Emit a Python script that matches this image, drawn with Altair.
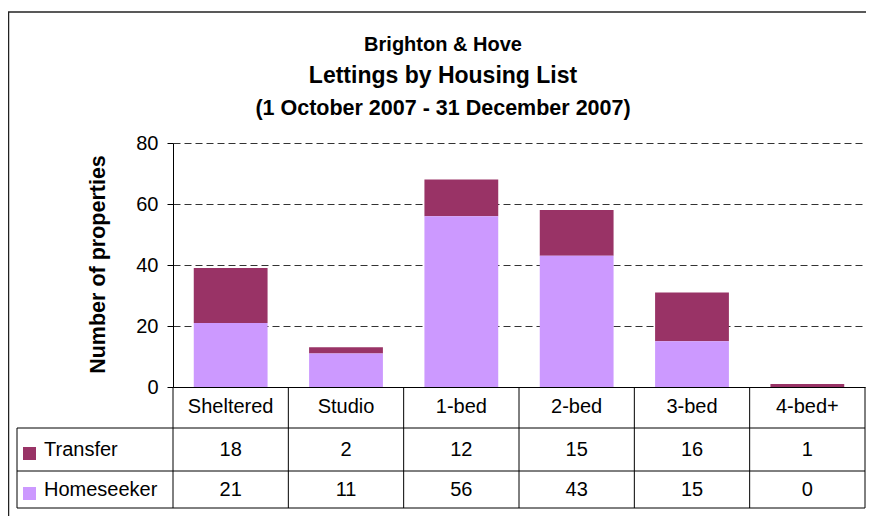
import altair as alt
import pandas as pd

categories = ["Sheltered", "Studio", "1-bed", "2-bed", "3-bed", "4-bed+"]
transfer = [18, 2, 12, 15, 16, 1]
homeseeker = [21, 11, 56, 43, 15, 0]
series_names = ["Transfer", "Homeseeker"]
series_colors = ["#993366", "#CC99FF"]
title_lines = ["Brighton & Hove", "Lettings by Housing List", "(1 October 2007 - 31 December 2007)"]
y_ticks = [0, 20, 40, 60, 80]
y_title = "Number of properties"

W, H = 692, 244
FONT = "Liberation Sans"

rows = []
for i, c in enumerate(categories):
    rows.append({"category": c, "series": "Transfer", "value": transfer[i], "rank": 1})
    rows.append({"category": c, "series": "Homeseeker", "value": homeseeker[i], "rank": 0})
df = pd.DataFrame(rows)
cat_df = pd.DataFrame({"category": categories})
one = pd.DataFrame({"k": [0]})

x_scale = alt.Scale(type="band", paddingInner=0, paddingOuter=0)
x_axis = alt.Axis(labels=False, ticks=False, domain=True, domainColor="black",
                  domainWidth=1, title=None, grid=False, zindex=1)


def xenc(**kw):
    return alt.X("category:N", sort=categories, scale=x_scale, axis=x_axis, **kw)


color_enc = alt.Color("series:N", scale=alt.Scale(domain=series_names, range=series_colors), legend=None)

bars = alt.Chart(df).mark_bar(width=alt.RelativeBandSize(0.64)).encode(
    x=xenc(),
    y=alt.Y("value:Q", stack="zero",
            scale=alt.Scale(domain=[0, 80], nice=False),
            axis=alt.Axis(values=y_ticks, title=y_title, grid=True,
                          gridColor="#333333", gridDash=[7, 4], gridWidth=1,
                          tickColor="black", tickSize=6, domainColor="black",
                          labelFont=FONT, labelFontSize=20, labelColor="black",
                          labelPadding=9, titleFont=FONT, titleFontSize=21.5,
                          titleFontWeight="bold", titleColor="black",
                          titleX=-75, titleY=H / 2 - 1, titleAngle=270,
                          titleAlign="center", titleBaseline="middle")),
    color=color_enc,
    order=alt.Order("rank:Q", sort="ascending"),
)

text_style = dict(font=FONT, fontSize=20, color="black", baseline="middle")

header = alt.Chart(cat_df).mark_text(**text_style).encode(
    x=xenc(), y=alt.value(H + 20), text="category:N")

row_layers = []
row_y = {"Transfer": H + 62.5, "Homeseeker": H + 102.5}
for s in series_names:
    vals = alt.Chart(df).transform_filter(alt.datum.series == s).mark_text(**text_style).encode(
        x=xenc(), y=alt.value(row_y[s]), text="value:Q")
    key = alt.Chart(pd.DataFrame({"series": [s]})).mark_square(size=169, opacity=1, filled=True).encode(
        x=alt.value(-143.5), y=alt.value(row_y[s] + 4), color=color_enc)
    lab = alt.Chart(pd.DataFrame({"series": [s]})).mark_text(align="left", **text_style).encode(
        x=alt.value(-129), y=alt.value(row_y[s]), text="series:N")
    row_layers += [vals, key, lab]

rule_style = dict(color="black", strokeWidth=1)
hlines = [
    alt.Chart(one).mark_rule(**rule_style).encode(x=alt.value(-156), x2=alt.value(W), y=alt.value(yy))
    for yy in (H + 41, H + 84, H + 121)
]
vleft = alt.Chart(one).mark_rule(**rule_style).encode(x=alt.value(-156), y=alt.value(H + 41), y2=alt.value(H + 121))
vright = alt.Chart(one).mark_rule(**rule_style).encode(x=alt.value(W), y=alt.value(H), y2=alt.value(H + 121))
vbands = alt.Chart(cat_df).mark_rule(**rule_style).encode(
    x=xenc(bandPosition=0), y=alt.value(H), y2=alt.value(H + 121))

frame_top = alt.Chart(one).mark_rule(color="#222222", strokeWidth=1.5).encode(
    x=alt.value(-165), x2=alt.value(W + 2), y=alt.value(-131))
frame_left = alt.Chart(one).mark_rule(color="#222222", strokeWidth=1.5).encode(
    x=alt.value(-164.5), y=alt.value(-131), y2=alt.value(H + 140))

title_sizes = [20, 23, 21.5]
title_ys = [-92, -60, -28]
titles = [
    alt.Chart(pd.DataFrame({"t": [title_lines[i]]})).mark_text(
        font=FONT, fontSize=title_sizes[i], fontWeight="bold", color="black",
        align="center", baseline="alphabetic").encode(
        x=alt.value(270), y=alt.value(title_ys[i]), text="t:N")
    for i in range(3)
]

chart = alt.layer(
    bars, header, *row_layers, *hlines, vleft, vright, vbands, frame_top, frame_left, *titles
).properties(
    width=W, height=H,
    autosize=alt.AutoSizeParams(type="none"),
    padding={"left": 165, "top": 135, "right": 1, "bottom": 129},
    background="white",
).configure_view(stroke=None)

chart.save("out.html", embed_options={"renderer": "svg", "actions": False})
